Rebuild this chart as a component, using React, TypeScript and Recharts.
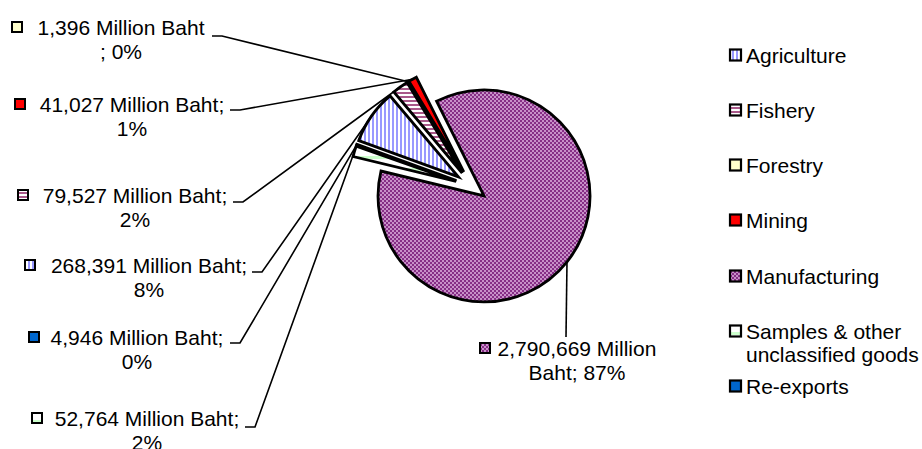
import React from "react";
import { Cell, Legend, Pie, PieChart, Sector } from "recharts";

const CATEGORIES = [
  "Agriculture",
  "Fishery",
  "Forestry",
  "Mining",
  "Manufacturing",
  "Samples & other unclassified goods",
  "Re-exports",
];
const VALUES = [268391, 79527, 1396, 41027, 2790669, 52764, 4946]; // Million Baht
const PERCENTS = [8, 2, 0, 1, 87, 2, 0];
const LEGEND_LINES = [
  ["Agriculture"],
  ["Fishery"],
  ["Forestry"],
  ["Mining"],
  ["Manufacturing"],
  ["Samples & other", "unclassified goods"],
  ["Re-exports"],
];

const FILLS = [
  "url(#pAgri)",
  "url(#pFish)",
  "#FFFFCC",
  "#FF0000",
  "url(#pManu)",
  "url(#pSamp)",
  "#0066CC",
];

// label placement (text centre, first line centre, key x, leader start)
const LABEL_POS = [
  { tx: 149, ty: 265, mx: 30, lx: 252, ly: 272, split: "semi" },
  { tx: 135, ty: 195, mx: 23, lx: 233, ly: 202, split: "semi" },
  { tx: 121, ty: 27, mx: 17, lx: 212, ly: 36, split: "beforeSemi" },
  { tx: 132, ty: 104, mx: 20, lx: 230, ly: 110, split: "semi" },
  { tx: 577, ty: 348, mx: 485, lx: 566, ly: 337, split: "million" },
  { tx: 147, ty: 418, mx: 37, lx: 245, ly: 427, split: "semi" },
  { tx: 137, ty: 337, mx: 34, lx: 230, ly: 343, split: "semi" },
];

const FONT = "'Liberation Sans', Arial, sans-serif";
const RAD = Math.PI / 180;
const EXPLODE = 16;

const data = CATEGORIES.map((name, i) => ({ name, value: VALUES[i], pct: PERCENTS[i] }));

const fmt = (v: number) => v.toLocaleString("en-US");

function labelLines(i: number): [string, string] {
  const v = fmt(VALUES[i]);
  const p = PERCENTS[i];
  const s = LABEL_POS[i].split;
  if (s === "beforeSemi") return [`${v} Million Baht`, `; ${p}%`];
  if (s === "million") return [`${v} Million`, `Baht; ${p}%`];
  return [`${v} Million Baht;`, `${p}%`];
}

const renderSlice = (props: any) => {
  const { cx, cy, midAngle } = props;
  const dx = EXPLODE * Math.cos(-midAngle * RAD);
  const dy = EXPLODE * Math.sin(-midAngle * RAD);
  return <Sector {...props} cx={cx + dx} cy={cy + dy} />;
};

const renderLabel = (props: any) => {
  const { cx, cy, midAngle, outerRadius, index } = props;
  const pos = LABEL_POS[index];
  const cos = Math.cos(-midAngle * RAD);
  const sin = Math.sin(-midAngle * RAD);
  const ex = cx + EXPLODE * cos + outerRadius * cos;
  const ey = cy + EXPLODE * sin + outerRadius * sin;
  const [l1, l2] = labelLines(index);
  const path =
    pos.split === "million"
      ? `M${pos.lx},${pos.ly} L${ex},${ey}`
      : `M${pos.lx},${pos.ly} L${pos.lx + 10},${pos.ly} L${ex},${ey}`;
  return (
    <g key={`lbl-${index}`}>
      <path d={path} stroke="#000" strokeWidth={1.6} fill="none" />
      <rect
        x={pos.mx - 5}
        y={pos.ty - 5}
        width={10}
        height={10}
        fill={FILLS[index]}
        stroke="#000"
        strokeWidth={2}
      />
      <text
        textAnchor="middle"
        fontFamily={FONT}
        fontSize={21}
        fill="#000"
      >
        <tspan x={pos.tx} y={pos.ty + 7.5}>{l1}</tspan>
        <tspan x={pos.tx} y={pos.ty + 31.5}>{l2}</tspan>
      </text>
    </g>
  );
};

const renderLegend = () => (
  <div style={{ fontFamily: FONT, fontSize: 21, color: "#000" }}>
    {LEGEND_LINES.map((lines, i) => (
      <div key={i} style={{ height: 55.3, display: "flex", alignItems: "flex-start" }}>
        <svg width={15} height={23} style={{ flex: "none", marginRight: 3 }}>
          <rect x={2} y={5.5} width={11} height={11} fill={FILLS[i]} stroke="#000" strokeWidth={2.2} />
        </svg>
        <div style={{ lineHeight: "23px", whiteSpace: "nowrap" }}>
          {lines.map((t) => (
            <div key={t}>{t}</div>
          ))}
        </div>
      </div>
    ))}
  </div>
);

export default function App() {
  return (
    <div style={{ width: 922, height: 449, background: "#fff" }}>
      <style>{`body{margin:0;background:#fff}`}</style>
      <PieChart width={922} height={449} margin={{ top: 0, right: 0, bottom: 0, left: 0 }}>
        <defs>
          <pattern id="pAgri" width={4} height={4} patternUnits="userSpaceOnUse">
            <rect width={4} height={4} fill="#fff" />
            <rect width={2} height={4} fill="#9999FF" />
          </pattern>
          <pattern id="pFish" width={4} height={4} patternUnits="userSpaceOnUse">
            <rect width={4} height={4} fill="#fff" />
            <rect width={4} height={2} fill="#A9588A" />
          </pattern>
          <pattern id="pManu" width={4} height={4} patternUnits="userSpaceOnUse">
            <rect width={4} height={4} fill="#C890C8" />
            <rect width={2} height={2} fill="#862E86" />
            <rect x={2} y={2} width={2} height={2} fill="#862E86" />
          </pattern>
          <pattern id="pSamp" width={12} height={12} patternUnits="userSpaceOnUse">
            <rect width={12} height={12} fill="#fff" />
            <rect width={12} height={3} fill="#CCFFCC" />
          </pattern>
        </defs>
        <Pie
          data={data}
          dataKey="value"
          nameKey="name"
          cx={471.5}
          cy={186}
          outerRadius={106}
          startAngle={160}
          endAngle={-200}
          stroke="#000"
          strokeWidth={2.8}
          shape={renderSlice}
          label={renderLabel}
          labelLine={false}
          isAnimationActive={false}
        >
          {data.map((d, i) => (
            <Cell key={d.name} fill={FILLS[i]} />
          ))}
        </Pie>
        <Legend
          content={renderLegend}
          layout="vertical"
          verticalAlign="top"
          align="right"
          wrapperStyle={{ position: "absolute", left: 728, top: 43.5, width: 194 }}
        />
      </PieChart>
    </div>
  );
}
